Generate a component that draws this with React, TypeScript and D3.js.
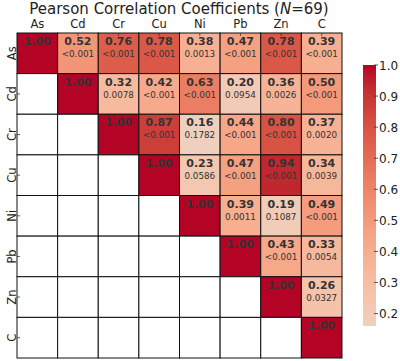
import * as d3 from 'd3';

const labels = ['As', 'Cd', 'Cr', 'Cu', 'Ni', 'Pb', 'Zn', 'C'];

// upper triangle, row by row (starting at the diagonal)
const rValues = [
  [1.0, 0.52, 0.76, 0.78, 0.38, 0.47, 0.78, 0.39],
  [1.0, 0.32, 0.42, 0.63, 0.2, 0.36, 0.5],
  [1.0, 0.87, 0.16, 0.44, 0.8, 0.37],
  [1.0, 0.23, 0.47, 0.94, 0.34],
  [1.0, 0.39, 0.19, 0.49],
  [1.0, 0.43, 0.33],
  [1.0, 0.26],
  [1.0],
];
const pValues = [
  ['', '<0.001', '<0.001', '<0.001', '0.0013', '<0.001', '<0.001', '<0.001'],
  ['', '0.0078', '<0.001', '<0.001', '0.0954', '0.0026', '<0.001'],
  ['', '<0.001', '0.1782', '<0.001', '<0.001', '0.0020'],
  ['', '0.0586', '<0.001', '<0.001', '0.0039'],
  ['', '0.0011', '0.1087', '<0.001'],
  ['', '<0.001', '0.0054'],
  ['', '0.0327'],
  [''],
];
const cbarTicks = [0.2, 0.3, 0.4, 0.5, 0.6, 0.7, 0.8, 0.9, 1.0];
const vmin = 0.16;
const vmax = 1.0;

// red half of matplotlib coolwarm
const cwStops = [0.5, 0.53125, 0.5625, 0.59375, 0.625, 0.65625, 0.6875, 0.71875, 0.75, 0.78125, 0.8125, 0.84375, 0.875, 0.90625, 0.9375, 0.96875, 1.0];
const cwColors = ['#dddddd', '#e5d8d1', '#ecd3c5', '#f1ccb8', '#f5c4ac', '#f7bba0', '#f7b194', '#f7a788', '#f49a7b', '#f18d6f', '#ec7f63', '#e57058', '#de604d', '#d55042', '#cb3e38', '#c0282f', '#b40426'];
const coolwarm = d3.scaleLinear<string>().domain(cwStops).range(cwColors).interpolate(d3.interpolateRgb);
// seaborn center=0 → values map to (v+1)/2
const color = (v: number) => coolwarm((v + 1) / 2);

export default function App() {
  const n = labels.length;
  const x = d3.scaleBand().domain(labels).range([17, 342]);
  const y = d3.scaleBand().domain(labels).range([33, 358]);
  const bw = x.bandwidth();
  const cbY = d3.scaleLinear().domain([vmin, vmax]).range([326, 65]);
  const font = 'DejaVu Sans, sans-serif';

  const cells: JSX.Element[] = [];
  for (let i = 0; i < n; i++) {
    for (let j = 0; j < n; j++) {
      const x0 = x(labels[j])!;
      const y0 = y(labels[i])!;
      const upper = j >= i;
      const r = upper ? rValues[i][j - i] : null;
      cells.push(
        <rect key={`c${i}-${j}`} x={x0} y={y0} width={bw} height={bw}
          fill={r === null ? '#ffffff' : color(r)} stroke="#111" strokeWidth={1} />
      );
      if (r !== null) {
        cells.push(
          <text key={`r${i}-${j}`} x={x0 + bw / 2} y={y0 + 12} textAnchor="middle"
            fontSize={11} fontWeight="bold" fill="#333">{r.toFixed(2)}</text>
        );
        const p = pValues[i][j - i];
        if (p) {
          cells.push(
            <text key={`p${i}-${j}`} x={x0 + bw / 2} y={y0 + 24} textAnchor="middle"
              fontSize={8.8} fill="#333">{p}</text>
          );
        }
      }
    }
  }

  const gradStops = d3.range(0, 21).map((k) => {
    const v = vmin + ((vmax - vmin) * k) / 20;
    return <stop key={k} offset={`${(k / 20) * 100}%`} stopColor={color(v)} />;
  });

  return (
    <svg width={400} height={361} style={{ position: 'absolute', left: 0, top: 0 }} fontFamily={font}>
      <defs>
        <linearGradient id="cbar" x1="0" y1="1" x2="0" y2="0">
          {gradStops}
        </linearGradient>
      </defs>
      <rect width={400} height={361} fill="#fff" />
      <text x={179} y={13.5} textAnchor="middle" fontSize={15} fill="#222">
        Pearson Correlation Coefficients (<tspan fontStyle="italic">N</tspan>=69)
      </text>
      {labels.map((l) => (
        <g key={`lab${l}`}>
          <text x={x(l)! + bw / 2} y={28} textAnchor="middle" fontSize={11.5} fill="#222">{l}</text>
          <text transform={`translate(16,${y(l)! + bw / 2}) rotate(-90)`} textAnchor="middle" fontSize={11.5} fill="#222">{l}</text>
        </g>
      ))}
      {cells}
      {labels.map((l) => (
        <g key={`tk${l}`} stroke="#333" strokeWidth={0.8}>
          <line x1={x(l)! + bw / 2} x2={x(l)! + bw / 2} y1={33} y2={36} />
          <line x1={17} x2={20} y1={y(l)! + bw / 2} y2={y(l)! + bw / 2} />
        </g>
      ))}
      <rect x={363} y={65} width={13} height={261} fill="url(#cbar)" />
      {cbarTicks.map((t) => (
        <g key={`cb${t}`}>
          <line x1={374} x2={378} y1={cbY(t)} y2={cbY(t)} stroke="#333" strokeWidth={0.8} />
          <text x={379} y={cbY(t) + 4.5} fontSize={12} fill="#222">{t.toFixed(1)}</text>
        </g>
      ))}
    </svg>
  );
}
